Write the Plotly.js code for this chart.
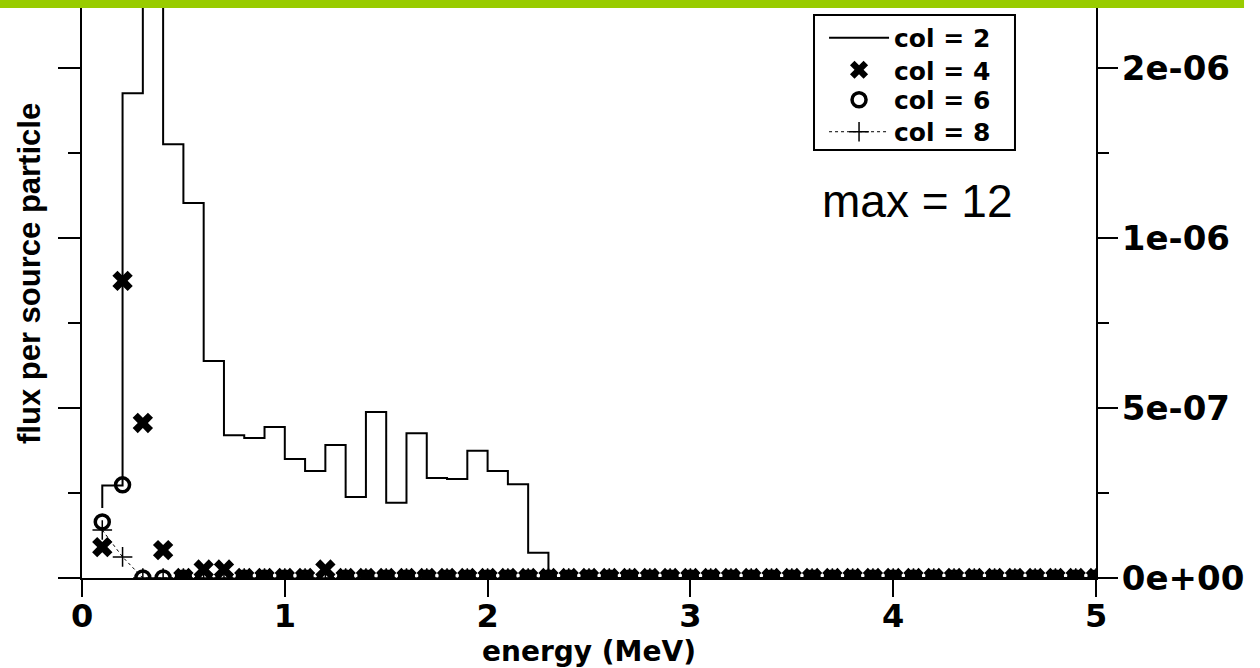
<!DOCTYPE html>
<html><head><meta charset="utf-8">
<script src="https://cdn.plot.ly/plotly-3.0.1.min.js"></script>
<style>html,body{margin:0;padding:0;background:#fff;}#chart{width:1260px;height:668px;}</style>
</head><body><div id="chart"></div>
<script>
// energy bins (MeV)
const energy = [0.1,0.2,0.3,0.4,0.5,0.6,0.7,0.8,0.9,1.0,
                1.1,1.2,1.3,1.4,1.5,1.6,1.7,1.8,1.9,2.0,
                2.1,2.2,2.3,2.4,2.5,2.6,2.7,2.8,2.9,3.0,
                3.1,3.2,3.3,3.4,3.5,3.6,3.7,3.8,3.9,4.0,
                4.1,4.2,4.3,4.4,4.5,4.6,4.7,4.8,4.9,5.0];
// col = 2 (histogram steps)
const col2 = [2.06e-7,2.72e-7,1.426e-6,2.6e-6,1.276e-6,1.103e-6,6.38e-7,4.2e-7,4.12e-7,4.44e-7,
              3.5e-7,3.15e-7,3.91e-7,2.38e-7,4.88e-7,2.21e-7,4.26e-7,2.94e-7,2.91e-7,3.74e-7,
              3.15e-7,2.76e-7,7.4e-8,0,0,0,0,0,0,0,
              0,0,0,0,0,0,0,0,0,0,
              0,0,0,0,0,0,0,0,0,0];
// col = 4
const col4 = [9.1e-8,8.74e-7,4.56e-7,8.2e-8,0,2.5e-8,2.5e-8,0,0,0,
              0,2.5e-8,0,0,0,0,0,0,0,0,
              0,0,0,0,0,0,0,0,0,0,
              0,0,0,0,0,0,0,0,0,0,
              0,0,0,0,0,0,0,0,0,0];
// col = 6
const col6 = [1.65e-7,2.74e-7,0,0,0,0,0,0,0,0,
              0,0,0,0,0,0,0,0,0,0,
              0,0,0,0,0,0,0,0,0,0,
              0,0,0,0,0,0,0,0,0,0,
              0,0,0,0,0,0,0,0,0,0];
// col = 8
const col8 = [1.41e-7,6.2e-8,0,0,0,0,0,0,0,0,
              0,0,0,0,0,0,0,0,0,0,
              0,0,0,0,0,0,0,0,0,0,
              0,0,0,0,0,0,0,0,0,0,
              0,0,0,0,0,0,0,0,0,0];
const seriesNames = ['col = 2','col = 4','col = 6','col = 8'];
const xTickVals = [0,1,2,3,4,5];
const xTickText = ['0','1','2','3','4','5'];
const yTickVals = [0,5e-7,1e-6,1.5e-6];
const yTickText = ['0e+00','5e-07','1e-06','2e-06'];
const yMinorVals = [2.5e-7,7.5e-7,1.25e-6];
const xTitle = 'energy (MeV)';
const yTitle = 'flux per source particle';
const note = 'max = 12';

const boldFont = {family:'DejaVu Sans', weight:'bold', color:'#000'};
const yRange = [0, 1.6765e-6];

const traces = [
  {x:energy, y:col2, name:seriesNames[0], legend:'legend', type:'scatter', mode:'lines',
   line:{color:'#000', width:2, shape:'vh'}},
  {x:energy, y:col4, name:seriesNames[1], legend:'legend2', type:'scatter', mode:'markers',
   marker:{symbol:'x', size:18, color:'#000', line:{width:0}}},
  {x:energy, y:col6, name:seriesNames[2], legend:'legend3', type:'scatter', mode:'markers',
   marker:{symbol:'circle-open', size:14, color:'#000', line:{width:3.5, color:'#000'}}},
  {x:energy, y:col8, name:seriesNames[3], legend:'legend4', type:'scatter', mode:'lines+markers',
   line:{color:'#000', width:1, dash:'dot'},
   marker:{symbol:'cross-thin-open', size:14, color:'#000', line:{width:1.5, color:'#000'}}}
];
// invisible helper so the right-hand axis is drawn
traces.push({x:[0], y:[0], yaxis:'y2', type:'scatter', mode:'markers', marker:{opacity:0}, showlegend:false, hoverinfo:'skip'});

function legendAt(yc) {
  return {x:0.7318, y:yc, xanchor:'left', yanchor:'middle',
          bgcolor:'rgba(0,0,0,0)', borderwidth:0,
          font:Object.assign({size:25}, boldFont), itemwidth:60, tracegroupgap:0};
}

const layout = {
  width:1260, height:668,
  margin:{l:82, r:164, t:8, b:90, pad:0},
  paper_bgcolor:'#fff', plot_bgcolor:'#fff',
  showlegend:true,
  xaxis:{range:[0,5], tickvals:xTickVals, ticktext:xTickText,
         ticks:'outside', ticklen:17, tickwidth:2, tickcolor:'#000',
         showline:true, linecolor:'#000', linewidth:2, showgrid:false, zeroline:false,
         tickfont:Object.assign({size:32}, boldFont), ticklabelstandoff:-8,
         title:{text:xTitle, font:Object.assign({size:28}, boldFont), standoff:4},
         automargin:false, fixedrange:true},
  yaxis:{range:yRange, tickvals:yTickVals, showticklabels:false,
         ticks:'outside', ticklen:22, tickwidth:2, tickcolor:'#000',
         minor:{tickvals:yMinorVals, ticks:'outside', ticklen:12, tickwidth:2, tickcolor:'#000', showgrid:false},
         showline:true, linecolor:'#000', linewidth:2, showgrid:false, zeroline:false,
         automargin:false, fixedrange:true},
  yaxis2:{range:yRange, overlaying:'y', side:'right', anchor:'x',
          tickvals:yTickVals, ticktext:yTickText,
          ticks:'outside', ticklen:20, tickwidth:2, tickcolor:'#000',
          minor:{tickvals:yMinorVals, ticks:'outside', ticklen:11, tickwidth:2, tickcolor:'#000', showgrid:false},
          showline:true, linecolor:'#000', linewidth:2, showgrid:false, zeroline:false,
          tickfont:Object.assign({size:34}, boldFont), ticklabelstandoff:-3,
          automargin:false, fixedrange:true},
  legend:legendAt(0.9474),
  legend2:legendAt(0.8912),
  legend3:legendAt(0.8386),
  legend4:legendAt(0.7825),
  annotations:[
    {text:note, xref:'paper', yref:'paper', x:0.8235, y:0.661,
     xanchor:'center', yanchor:'middle', showarrow:false,
     font:{family:'Liberation Sans', size:46, color:'#000'}},
    {text:yTitle, xref:'paper', yref:'paper', x:-0.0513, y:0.5351, textangle:-90,
     xanchor:'center', yanchor:'middle', showarrow:false,
     font:{family:'Liberation Sans', weight:'bold', size:31, color:'#000'}}
  ],
  shapes:[
    {type:'rect', xref:'paper', yref:'paper', x0:0.7219, x1:0.9201, y0:0.7509, y1:0.9877,
     fillcolor:'#fff', line:{width:2, color:'#000'}, layer:'above'},
    {type:'rect', xref:'paper', yref:'paper', x0:-0.081, x1:1.146, y0:1.0, y1:1.015,
     fillcolor:'#99CC00', line:{width:0}, layer:'above'}
  ]
};

Plotly.newPlot('chart', traces, layout, {displayModeBar:false, staticPlot:true});
</script>
</body></html>
